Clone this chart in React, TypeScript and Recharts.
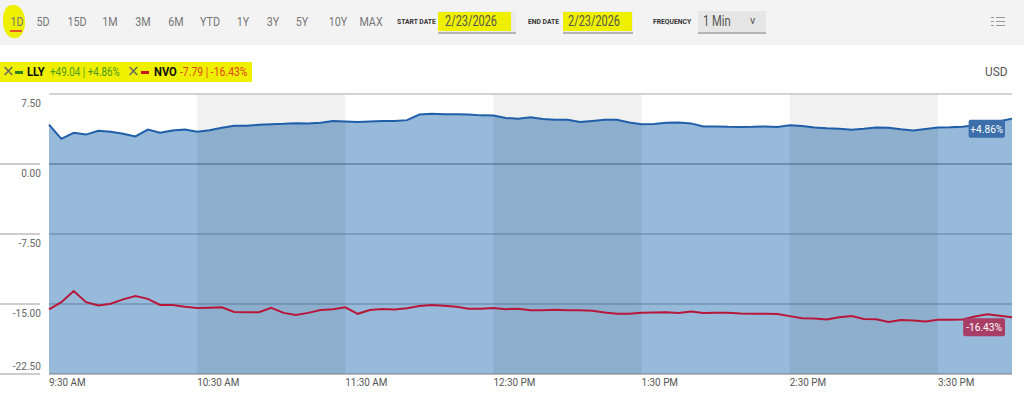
import React from "react";
import {
  ComposedChart,
  Area,
  Line,
  XAxis,
  YAxis,
  ReferenceArea,
  ReferenceLine,
  LabelList,
} from "recharts";

// 5-minute samples, 9:30 -> 16:00
const times = [
  "9:30", "9:35", "9:40", "9:45", "9:50", "9:55",
  "10:00", "10:05", "10:10", "10:15", "10:20", "10:25", "10:30", "10:35", "10:40", "10:45", "10:50", "10:55",
  "11:00", "11:05", "11:10", "11:15", "11:20", "11:25", "11:30", "11:35", "11:40", "11:45", "11:50", "11:55",
  "12:00", "12:05", "12:10", "12:15", "12:20", "12:25", "12:30", "12:35", "12:40", "12:45", "12:50", "12:55",
  "13:00", "13:05", "13:10", "13:15", "13:20", "13:25", "13:30", "13:35", "13:40", "13:45", "13:50", "13:55",
  "14:00", "14:05", "14:10", "14:15", "14:20", "14:25", "14:30", "14:35", "14:40", "14:45", "14:50", "14:55",
  "15:00", "15:05", "15:10", "15:15", "15:20", "15:25", "15:30", "15:35", "15:40", "15:45", "15:50", "15:55",
  "16:00",
];

// % change
const lly = [
  4.21, 2.7, 3.35, 3.15, 3.57, 3.45, 3.25, 2.95, 3.68, 3.35, 3.6, 3.7,
  3.45, 3.62, 3.88, 4.1, 4.1, 4.2, 4.27, 4.3, 4.37, 4.33, 4.42, 4.6,
  4.55, 4.5, 4.55, 4.62, 4.6, 4.7, 5.3, 5.38, 5.33, 5.33, 5.3, 5.21,
  5.2, 4.93, 4.86, 5.0, 4.82, 4.75, 4.75, 4.5, 4.62, 4.75, 4.73, 4.45,
  4.25, 4.28, 4.41, 4.44, 4.35, 4.03, 4.03, 3.98, 3.96, 3.98, 4.03, 3.96,
  4.16, 4.08, 3.9, 3.82, 3.77, 3.68, 3.77, 3.9, 3.88, 3.72, 3.6, 3.75,
  3.92, 3.93, 4.0, 4.15, 4.35, 4.57, 4.86,
];

const nvo = [
  -15.57, -14.8, -13.62, -14.8, -15.15, -14.98, -14.5, -14.15, -14.45, -15.1, -15.12, -15.3,
  -15.44, -15.4, -15.36, -15.85, -15.89, -15.88, -15.4, -15.95, -16.18, -15.95, -15.64, -15.57,
  -15.35, -16.05, -15.65, -15.54, -15.6, -15.45, -15.22, -15.1, -15.18, -15.3, -15.5, -15.5,
  -15.43, -15.55, -15.5, -15.66, -15.66, -15.62, -15.66, -15.66, -15.72, -15.92, -16.05, -16.05,
  -15.95, -15.9, -15.88, -15.96, -15.8, -15.96, -15.93, -15.95, -16.02, -16.05, -16.05, -16.08,
  -16.3, -16.52, -16.55, -16.65, -16.42, -16.28, -16.6, -16.63, -16.92, -16.72, -16.77, -16.88,
  -16.7, -16.7, -16.65, -16.35, -16.1, -16.25, -16.43,
];

const xTicks = ["9:30", "10:30", "11:30", "12:30", "13:30", "14:30", "15:30"];
const yTicks = [7.5, 0, -7.5, -15, -22.5];
const bands = [["10:30", "11:30"], ["12:30", "13:30"], ["14:30", "15:30"]];
const ranges = ["1D", "5D", "15D", "1M", "3M", "6M", "YTD", "1Y", "3Y", "5Y", "10Y", "MAX"];
const rangeX = [17, 43, 77, 110, 143, 176, 210, 243, 273, 302, 338, 371];

const toMin = (s: string) => {
  const [h, m] = s.split(":").map(Number);
  return h * 60 + m - 570;
};

const fmtTime = (v: number) => {
  const t = v + 570;
  let h = Math.floor(t / 60);
  const m = t % 60;
  const ap = h >= 12 ? "PM" : "AM";
  if (h > 12) h -= 12;
  return `${h}:${String(m).padStart(2, "0")} ${ap}`;
};

const data = times.map((t, i) => ({ t: toMin(t), lly: lly[i], nvo: nvo[i] }));

const FONT = "Roboto, 'Liberation Sans', sans-serif";
const YELLOW = "#eef000";

// narrow-looking html text (no condensed font installed)
const T = ({ x, y, size = 13, color = "#555", bold = false, sx = 0.84, center = false, font, children }: any) => (
  <div
    style={{
      position: "absolute",
      left: x,
      top: y,
      fontSize: size,
      lineHeight: `${size + 3}px`,
      color,
      fontWeight: bold ? 700 : 400,
      fontFamily: font || FONT,
      whiteSpace: "nowrap",
      transform: center ? `translateX(-50%) scaleX(${sx})` : `scaleX(${sx})`,
      transformOrigin: center ? "center" : "left",
    }}
  >
    {children}
  </div>
);

const Box = ({ x, y, w, h, bg, style }: any) => (
  <div style={{ position: "absolute", left: x, top: y, width: w, height: h, background: bg, ...style }} />
);

const YTick = (props: any) => {
  const { y, payload } = props;
  const v = payload.value;
  const below = v !== -22.5;
  return (
    <g>
      {v !== 7.5 && <line x1={0} x2={40} y1={y} y2={y} stroke="#9a9a9a" />}
      <text
        transform={`translate(41,${below ? y + 13 : y - 4}) scale(0.88,1)`}
        textAnchor="end"
        fontSize={11.5}
        fill="#666"
        fontFamily={FONT}
      >
        {v.toFixed(2)}
      </text>
    </g>
  );
};

const XTick = (props: any) => {
  const { x, payload } = props;
  return (
    <text
      transform={`translate(${x},386) scale(0.86,1)`}
      textAnchor="start"
      fontSize={11.5}
      fill="#555"
      fontFamily={FONT}
    >
      {fmtTime(payload.value)}
    </text>
  );
};

const endLabel = (color: string, last: number) => (p: any) => {
  if (p.index !== last) return null;
  const txt = (p.value > 0 ? "+" : "") + p.value.toFixed(2) + "%";
  const w = txt.length * 5.4 + 4;
  const right = p.x - 7;
  return (
    <g>
      <rect x={right - w} y={p.y + 1} width={w} height={18} rx={2} fill={color} />
      <text
        transform={`translate(${right - w / 2},${p.y + 14}) scale(0.88,1)`}
        textAnchor="middle"
        fontSize={11.5}
        fill="#fff"
        fontFamily={FONT}
      >
        {txt}
      </text>
    </g>
  );
};

export default function App() {
  const last = data.length - 1;
  return (
    <div
      style={{
        position: "absolute",
        left: 0,
        top: 0,
        width: 1024,
        height: 395,
        background: "#fff",
        overflow: "hidden",
        fontFamily: FONT,
      }}
    >
      {/* toolbar */}
      <Box x={0} y={0} w={1024} h={45} bg="#f3f3f3" />
      <Box x={3} y={5} w={22} h={33} bg={YELLOW} style={{ borderRadius: "40% 50% 45% 50%" }} />
      <Box x={10} y={30} w={12} h={1.5} bg="#e5552a" />
      {ranges.map((r, i) => (
        <T key={r} x={rangeX[i]} y={14} size={12.5} color="#777" center sx={0.86}>
          {r}
        </T>
      ))}
      <T x={397} y={17} size={7.5} bold color="#333" sx={0.9}>
        START DATE
      </T>
      <Box x={438} y={11} w={78} h={21} bg="#ebebeb" style={{ borderBottom: "2px solid #b5b5b5" }} />
      <Box x={438} y={12} w={73} h={19} bg={YELLOW} />
      <T x={445} y={13} size={14} color="#555" sx={0.78}>
        2/23/2026
      </T>
      <T x={528} y={17} size={7.5} bold color="#333" sx={0.9}>
        END DATE
      </T>
      <Box x={563} y={11} w={70} h={21} bg="#ebebeb" style={{ borderBottom: "2px solid #b5b5b5" }} />
      <Box x={563} y={12} w={69} h={19} bg={YELLOW} />
      <T x={568} y={13} size={14} color="#555" sx={0.78}>
        2/23/2026
      </T>
      <T x={653} y={17} size={7.5} bold color="#333" sx={0.9}>
        FREQUENCY
      </T>
      <Box x={698} y={11} w={68} h={21} bg="#e6e6e6" style={{ borderBottom: "2px solid #b5b5b5" }} />
      <T x={703} y={13} size={14} color="#555" sx={0.8}>
        1 Min
      </T>
      <T x={750} y={14} size={11} color="#555" sx={1}>
        v
      </T>
      {[17, 21, 25].map((y) => (
        <React.Fragment key={y}>
          <Box x={991} y={y} w={3} h={1} bg="#999" />
          <Box x={996} y={y} w={9} h={1} bg="#999" />
        </React.Fragment>
      ))}

      {/* legend */}
      <Box x={0} y={62} w={252} h={20} bg={YELLOW} />
      <T x={2} y={62} size={15} color="#666" sx={1} font="'DejaVu Sans'">
        ×
      </T>
      <Box x={15} y={71} w={8} h={3} bg="#2d7d1c" />
      <T x={27} y={64} size={13} bold color="#111" sx={0.86}>
        LLY
      </T>
      <T x={50} y={64} size={13} color="#4f9b22" sx={0.76}>
        +49.04 | +4.86%
      </T>
      <T x={127} y={62} size={15} color="#666" sx={1} font="'DejaVu Sans'">
        ×
      </T>
      <Box x={141} y={71} w={8} h={3} bg="#c4161c" />
      <T x={154} y={64} size={13} bold color="#111" sx={0.86}>
        NVO
      </T>
      <T x={180} y={64} size={13} color="#e2481e" sx={0.8}>
        -7.79 | -16.43%
      </T>
      <T x={985} y={64} size={12.5} color="#555" sx={0.95}>
        USD
      </T>

      <div style={{ position: "absolute", left: 0, top: 0 }}>
        <ComposedChart width={1024} height={395} data={data} margin={{ top: 94, right: 12, bottom: 0, left: 0 }}>
          <XAxis
            dataKey="t"
            type="number"
            domain={[0, 390]}
            ticks={xTicks.map(toMin)}
            tick={<XTick />}
            tickLine={false}
            axisLine={{ stroke: "#7a7a7a" }}
            height={21}
            interval={0}
          />
          <YAxis
            domain={[-22.5, 7.5]}
            ticks={yTicks}
            tick={<YTick />}
            tickLine={false}
            axisLine={false}
            width={49}
            interval={0}
          />
          <Area
            dataKey="lly"
            type="linear"
            baseValue="dataMin"
            fill="#97b9da"
            fillOpacity={1}
            stroke="none"
            isAnimationActive={false}
          />
          {bands.map(([a, b]) => (
            <ReferenceArea
              key={a}
              x1={toMin(a)}
              x2={toMin(b)}
              fill="#000"
              fillOpacity={0.055}
              stroke="none"
            />
          ))}
          <ReferenceLine y={7.5} stroke="#a8a8a8" />
          <ReferenceLine y={0} stroke="#2e4c6c" strokeOpacity={0.75} />
          <ReferenceLine y={-7.5} stroke="#2e4c6c" strokeOpacity={0.5} />
          <ReferenceLine y={-15} stroke="#2e4c6c" strokeOpacity={0.5} />
          <Line
            dataKey="lly"
            type="linear"
            stroke="#1f5ea8"
            strokeWidth={2}
            dot={false}
            isAnimationActive={false}
          >
            <LabelList dataKey="lly" content={endLabel("#3c6eab", last)} />
          </Line>
          <Line
            dataKey="nvo"
            type="linear"
            stroke="#b8173a"
            strokeWidth={2}
            dot={false}
            isAnimationActive={false}
          >
            <LabelList dataKey="nvo" content={endLabel("#a83e66", last)} />
          </Line>
        </ComposedChart>
      </div>
    </div>
  );
}
